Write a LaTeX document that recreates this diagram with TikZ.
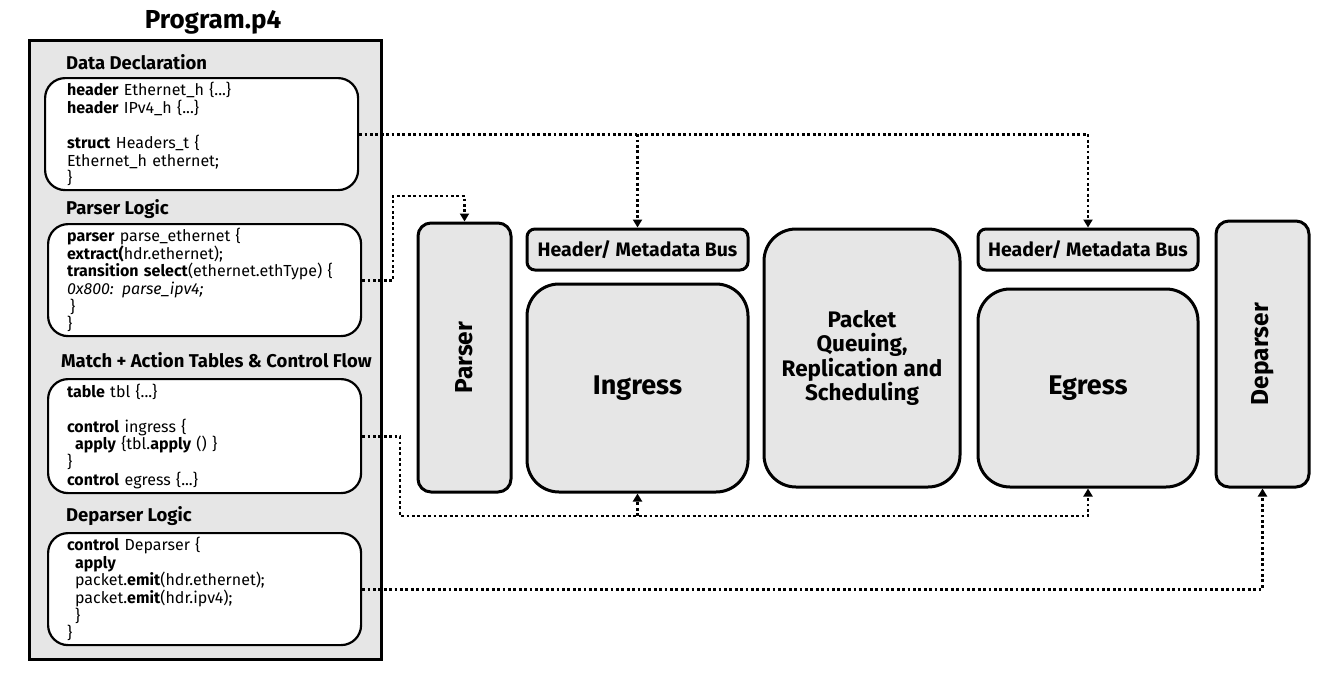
\documentclass[tikz,border=0pt]{standalone}
\usepackage{fontspec}
\setmainfont{Fira Sans}
\usetikzlibrary{arrows.meta}
\definecolor{boxgray}{RGB}{230,230,230}
\tikzset{
  blockbox/.style={draw=black, line width=3pt, fill=boxgray, inner sep=0pt},
  codebox/.style={draw=black, line width=2.2pt, fill=white, rounded corners=20pt, inner sep=0pt, text width=#1, align=left, font=\fontsize{16}{17.6}\selectfont},
  headlbl/.style={anchor=west, inner sep=0pt, font=\bfseries\fontsize{18.5}{20}\selectfont},
  biglbl/.style={font=\bfseries\fontsize{24.5}{26}\selectfont, inner sep=0pt},
  stagelbl/.style={font=\bfseries\fontsize{27}{30}\selectfont},
  buslbl/.style={font=\bfseries\fontsize{19.5}{22}\selectfont},
  dotline/.style={line width=2.9pt, dash pattern=on 2.8pt off 2.6pt},
  dotarrow/.style={dotline, -{Triangle[width=9pt,length=8pt]}},
}
\begin{document}
\begin{tikzpicture}[x=1pt,y=-1pt]
\useasboundingbox (0,0) rectangle (1332,688);
% Program.p4 container
\node[biglbl, font=\bfseries\fontsize{26}{28}\selectfont] (ptitle) at (213,22) {Program.p4};
\node[blockbox, minimum width=352pt, minimum height=619pt, anchor=north west] (prog) at (28,39) {};

\node[headlbl] (ddl) at (66,62) {Data Declaration};
\node[codebox=269pt, minimum width=313pt, minimum height=112pt, anchor=north west] (dd) at (44,77)
 {\textbf{header} Ethernet\_h \{...\}\\
  \textbf{header} IPv4\_h \{...\}\\[17.6pt]
  \textbf{struct} Headers\_t \{\\
  Ethernet\_h ethernet;\\
  \}};

\node[headlbl] (pll) at (66,209) {Parser Logic};
\node[codebox=275pt, minimum width=313pt, minimum height=112pt, anchor=north west] (pl) at (47,223)
 {\textbf{parser} parse\_ethernet \{\\
  \textbf{extract(}hdr.ethernet);\\
  \textbf{transition select}(ethernet.ethType) \{\\
  \textit{0x800: parse\_ipv4;}\\
  \hspace*{3pt}\}\\
  \}};

\node[headlbl] (mtl) at (61,360) {Match + Action Tables \& Control Flow};
\node[codebox=275pt, minimum width=313pt, minimum height=114pt, anchor=north west] (mt) at (47,378)
 {\textbf{table} tbl \{...\}\\[17.6pt]
  \textbf{control} ingress \{\\
  \hspace*{8pt}\textbf{apply} \{tbl.\textbf{apply} () \}\\
  \}\\
  \textbf{control} egress \{...\}};

\node[headlbl] (dpl) at (66,516) {Deparser Logic};
\node[codebox=275pt, minimum width=313pt, minimum height=112pt, anchor=north west] (dp) at (47,532)
 {\textbf{control} Deparser \{\\
  \hspace*{8pt}\textbf{apply}\\
  \hspace*{8pt}packet.\textbf{emit}(hdr.ethernet);\\
  \hspace*{8pt}packet.\textbf{emit}(hdr.ipv4);\\
  \hspace*{8pt}\}\\
  \}};

% pipeline blocks
\node[blockbox, rounded corners=13pt, minimum width=93pt, minimum height=269pt] (parser) at (464.5,357.5) {};
\node[biglbl, rotate=90] (parsert) at (parser.center) {Parser};

\node[blockbox, rounded corners=8pt, minimum width=221pt, minimum height=41pt, buslbl] (hb1) at (637.5,249.5) {Header/ Metadata Bus};
\node[blockbox, rounded corners=32pt, minimum width=221pt, minimum height=208pt, stagelbl] (ingress) at (637.5,388) {Ingress};

\node[blockbox, rounded corners=32pt, minimum width=196pt, minimum height=258pt, align=center, font=\bfseries\fontsize{22.5}{24.5}\selectfont] (pq) at (862,358) {Packet\\Queuing,\\Replication and\\Scheduling};

\node[blockbox, rounded corners=8pt, minimum width=220pt, minimum height=41pt, buslbl] (hb2) at (1088,249.5) {Header/ Metadata Bus};
\node[blockbox, rounded corners=32pt, minimum width=220pt, minimum height=198pt, stagelbl] (egress) at (1088,388) {Egress};

\node[blockbox, rounded corners=13pt, minimum width=93pt, minimum height=266pt] (deparser) at (1262.5,354) {};
\node[biglbl, rotate=90] (deparsert) at (deparser.center) {Deparser};

% connectors
\draw[dotarrow] (dd.east) -| (hb2.north);
\draw[dotarrow] (hb1.north |- dd.east) -- (hb1.north);

\coordinate (c2) at (393,196);
\draw[dotarrow] (pl.east) -| (c2) -| (parser.north);

\coordinate (c3) at (400,516);
\draw[dotarrow] (mt.east) -| (c3) -| (egress.south);
\draw[dotarrow] (ingress.south |- c3) -- (ingress.south);

\draw[dotarrow] (dp.east) -| (deparser.south);
\end{tikzpicture}
\end{document}
